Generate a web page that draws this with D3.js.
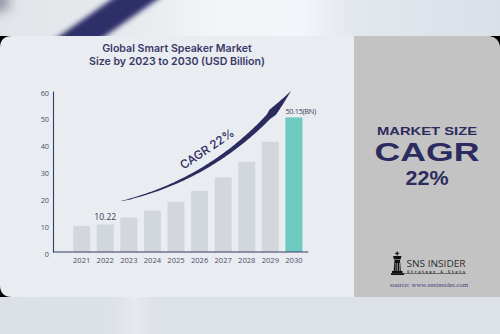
<!DOCTYPE html>
<html>
<head>
<meta charset="utf-8">
<script src="https://cdn.jsdelivr.net/npm/d3@7"></script>
<style>
  html, body { margin: 0; padding: 0; background: #e9ecf1; }
  svg { display: block; }
</style>
</head>
<body>
<svg id="chart" width="500" height="334"></svg>
<script>
// ---- data ----
const years = ["2021","2022","2023","2024","2025","2026","2027","2028","2029","2030"];
const values = [9.7, 10.22, 12.8, 15.4, 18.7, 22.8, 27.8, 33.6, 41.1, 50.15];
const yTicks = [0, 10, 20, 30, 40, 50, 60];
const barLabels = [{year: "2022", text: "10.22"}, {year: "2030", text: "50.15(BN)"}];
const highlightYear = "2030";
const titleLines = ["Global Smart Speaker Market", "Size by 2023 to 2030 (USD Billion)"];
const cagrText = "CAGR 22%";
const sideLines = ["MARKET SIZE", "CAGR", "22%"];

const W = 500, H = 334;
const svg = d3.select("#chart");
const navy = "#2c2b5f";

// ---- backdrop ----
const defs = svg.append("defs");
const bg = defs.append("linearGradient").attr("id", "bgTop").attr("x1", 0).attr("x2", 1).attr("y1", 0).attr("y2", 0);
[[0, "#e2e4e9"], [0.3, "#e9ebef"], [0.42, "#f2f4f8"], [0.6, "#f3f6fa"], [0.7, "#e3e8ee"], [1, "#d9e0e8"]]
  .forEach(([o, c]) => bg.append("stop").attr("offset", o).attr("stop-color", c));
const bb = defs.append("linearGradient").attr("id", "bgBot").attr("x1", 0).attr("x2", 1).attr("y1", 0).attr("y2", 0);
[[0, "#dce1e7"], [0.22, "#dde2e8"], [0.27, "#e6e9ed"], [0.31, "#dde2e8"], [1, "#dce2e8"]]
  .forEach(([o, c]) => bb.append("stop").attr("offset", o).attr("stop-color", c));
defs.append("filter").attr("id", "blur").attr("x", "-50%").attr("y", "-50%").attr("width", "200%").attr("height", "200%")
  .append("feGaussianBlur").attr("stdDeviation", 2.5);
defs.append("filter").attr("id", "blur2").attr("x", "-50%").attr("y", "-50%").attr("width", "200%").attr("height", "200%")
  .append("feGaussianBlur").attr("stdDeviation", 6);

const cardTop = 36, cardBot = 297, panelX = 354, r = 12;
svg.append("rect").attr("width", W).attr("height", cardTop + 2).attr("fill", "url(#bgTop)");
svg.append("ellipse").attr("cx", -4).attr("cy", 2).attr("rx", 14).attr("ry", 10).attr("fill", "#8e90a3").attr("filter", "url(#blur2)");
svg.append("path").attr("d", "M48,44 L94,44 L168,-8 L122,-8 Z").attr("fill", "#2f2e69").attr("filter", "url(#blur)");
svg.append("rect").attr("y", cardBot - 1).attr("width", W).attr("height", H - cardBot + 1).attr("fill", "url(#bgBot)");
svg.append("rect").attr("y", cardTop).attr("width", W).attr("height", cardBot - cardTop).attr("fill", "#000");

// card shape: rounded TL, TR, BL
const cardPath = `M0,${cardTop + r} Q0,${cardTop} ${r},${cardTop} L${W - r - 2},${cardTop} Q${W},${cardTop} ${W},${cardTop + r + 2}
  L${W},${cardBot} L${r},${cardBot} Q0,${cardBot} 0,${cardBot - r} Z`;
defs.append("clipPath").attr("id", "cardClip").append("path").attr("d", cardPath);
const card = svg.append("g").attr("clip-path", "url(#cardClip)");
card.append("rect").attr("y", cardTop).attr("width", W).attr("height", cardBot - cardTop).attr("fill", "#e9ecf1");
card.append("rect").attr("x", panelX).attr("y", cardTop).attr("width", W - panelX).attr("height", cardBot - cardTop).attr("fill", "#c3c3c3");

// ---- title ----
const title = svg.append("text").attr("text-anchor", "middle")
  .attr("font-family", "Inter, 'Open Sans', sans-serif").attr("font-weight", 600)
  .attr("font-size", 10.6).attr("fill", "#3a3a68");
titleLines.forEach((t, i) => title.append("tspan").attr("x", 177).attr("y", 51.5 + i * 13).text(t));

// ---- scales ----
const x = d3.scaleBand().domain(years).range([69.9, 305.7]).paddingInner(0.28).paddingOuter(0.14);
const y = d3.scaleLinear().domain([0, 60]).range([252, 91]);
const axisX = 53;

// bars
svg.append("g").selectAll("rect").data(years).join("rect")
  .attr("x", d => x(d)).attr("width", x.bandwidth())
  .attr("y", (d, i) => y(values[i])).attr("height", (d, i) => y(0) - y(values[i]))
  .attr("fill", d => d === highlightYear ? "#6dcac0" : "#d2d7dc");

// y axis
const yAxis = svg.append("g").attr("transform", `translate(${axisX},0)`)
  .call(d3.axisLeft(y).tickValues(yTicks).tickSize(0).tickPadding(4).tickFormat(d3.format("d")));
yAxis.select(".domain").attr("stroke", "#3b3b6b").attr("stroke-width", 1.1);
yAxis.selectAll("text").attr("font-family", "'Open Sans', sans-serif").attr("font-size", 7.3)
  .attr("fill", "#4d5066").attr("dy", "0.55em");

// x axis
const xAxis = svg.append("g").attr("transform", `translate(0,${y(0)})`)
  .call(d3.axisBottom(x).tickSize(0).tickPadding(6));
xAxis.select(".domain").remove();
xAxis.append("line").attr("x1", axisX).attr("x2", x.range()[1] + 2.5).attr("stroke", "#3b3b6b").attr("stroke-width", 1.1);
xAxis.selectAll("text").attr("font-family", "'Open Sans', sans-serif").attr("font-size", 7.6).attr("fill", "#4d5066");

// value labels
svg.append("g").selectAll("text").data(barLabels).join("text")
  .attr("x", d => d.year === highlightYear ? x(d.year) : x(d.year) + x.bandwidth() / 2)
  .attr("y", d => y(values[years.indexOf(d.year)]) - (d.year === highlightYear ? 3.5 : 5))
  .attr("text-anchor", d => d.year === highlightYear ? "start" : "middle")
  .attr("font-family", "'Open Sans', sans-serif")
  .attr("font-size", d => d.year === highlightYear ? 7.4 : 8.6)
  .attr("letter-spacing", d => d.year === highlightYear ? -0.35 : 0)
  .attr("fill", "#3c3d58").text(d => d.text);

// ---- CAGR swoosh arrow ----
const P0 = [x("2023") + 1.5, y(19)];
const C = [x("2026") + 32, y(28)];
const P2 = [x("2030") + 5.5, y(60)];
function bez(t) {
  const a = (1 - t) * (1 - t), b = 2 * t * (1 - t), c = t * t;
  return [a * P0[0] + b * C[0] + c * P2[0], a * P0[1] + b * C[1] + c * P2[1]];
}
function deriv(t) {
  return [2 * (1 - t) * (C[0] - P0[0]) + 2 * t * (P2[0] - C[0]), 2 * (1 - t) * (C[1] - P0[1]) + 2 * t * (P2[1] - C[1])];
}
function halfW(t) {
  if (t < 0.84) return 0.25 + 2.5 * Math.pow(t / 0.84, 0.9);
  if (t < 0.87) return 2.75 + (t - 0.84) / 0.03 * 1.4;
  return 4.15 * (1 - (t - 0.87) / 0.13);
}
const ts = d3.range(0, 1.0001, 0.01);
const left = [], right = [];
ts.forEach(t => {
  const p = bez(t), d = deriv(t), len = Math.hypot(d[0], d[1]);
  const n = [-d[1] / len, d[0] / len], w = halfW(t);
  left.push([p[0] + n[0] * w, p[1] + n[1] * w]);
  right.push([p[0] - n[0] * w, p[1] - n[1] * w]);
});
svg.append("path").attr("d", d3.line()(left.concat(right.reverse())) + "Z").attr("fill", navy);

svg.append("text").attr("transform", "translate(207,149) rotate(-34)")
  .attr("text-anchor", "middle").attr("dy", "0.35em")
  .attr("font-family", "Inter, 'Open Sans', sans-serif").attr("font-weight", 500)
  .attr("font-size", 11.8).attr("fill", navy).text(cagrText);

// ---- side panel (one text block, three lines) ----
const cx = 427;
const side = svg.append("text").attr("font-family", "'Liberation Sans', Arial, sans-serif").attr("font-weight", 700)
  .attr("fill", navy).attr("text-anchor", "middle");
[[sideLines[0], 135, 11.5, 100], [sideLines[1], 161, 26, 105], [sideLines[2], 184.8, 20, 43]].forEach(([t, yy, fs, tl]) => {
  side.append("tspan").attr("x", cx).attr("y", yy).attr("font-size", fs)
    .attr("textLength", tl).attr("lengthAdjust", "spacingAndGlyphs").text(t);
});

// logo
const logo = svg.append("g").attr("fill", "#111");
logo.append("rect").attr("x", 396.6).attr("y", 251.5).attr("width", 1.2).attr("height", 4);
logo.append("rect").attr("x", 395.2).attr("y", 252.8).attr("width", 4).attr("height", 1.1);
logo.append("path").attr("d", "M393,256 L401.5,256 L400.5,259.5 L394,259.5 Z");
logo.append("path").attr("d", "M394.5,260 L400,260 L400.8,271 L393.7,271 Z");
logo.append("rect").attr("x", 392).attr("y", 271).attr("width", 10.5).attr("height", 2.2);
logo.append("rect").attr("x", 391).attr("y", 273.2).attr("width", 13).attr("height", 1.8);
logo.selectAll(null).data([395.6, 397.4, 399]).join("rect")
  .attr("x", d => d).attr("y", 263).attr("width", 0.6).attr("height", 8).attr("fill", "#c3c3c3");
svg.append("rect").attr("x", 402).attr("y", 273.2).attr("width", 64).attr("height", 0.6).attr("fill", "#333");

const brand = svg.append("text").attr("fill", "#2d2d2d");
brand.append("tspan").attr("x", 406.5).attr("y", 267.3).attr("font-family", "'Open Sans', sans-serif")
  .attr("font-size", 8.3).attr("textLength", 59).attr("lengthAdjust", "spacingAndGlyphs").text("SNS INSIDER");
brand.append("tspan").attr("x", 407).attr("y", 272.6).attr("font-family", "'DejaVu Sans Mono', monospace")
  .attr("font-weight", 700).attr("font-size", 3.8)
  .attr("textLength", 58).attr("lengthAdjust", "spacing").text("Strategy & Stats");
svg.append("text").attr("x", 429).attr("y", 287).attr("text-anchor", "middle")
  .attr("font-family", "'Liberation Serif', serif").attr("font-size", 6.4).attr("fill", "#45457a")
  .attr("textLength", 78).attr("lengthAdjust", "spacingAndGlyphs").text("source: www.snsinsider.com");
</script>
</body>
</html>
